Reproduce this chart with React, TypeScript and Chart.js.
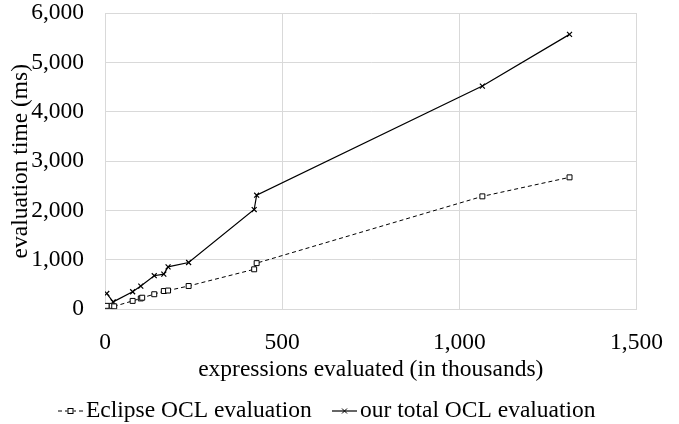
import React, { useEffect, useRef } from "react";
import { Chart, registerables } from "chart.js";

Chart.register(...registerables);

// ---- data ----
const seriesNames = ["Eclipse OCL evaluation", "our total OCL evaluation"];

const eclipseX = [5, 19, 26, 78, 101, 105, 139, 166, 178, 236, 421, 428, 1065, 1311];
const eclipseY = [70, 70, 60, 170, 220, 235, 305, 370, 380, 472, 810, 935, 2287, 2672];

const totalX = [5, 23, 78, 101, 139, 166, 178, 236, 421, 428, 1065, 1311];
const totalY = [320, 150, 355, 470, 680, 712, 860, 948, 2020, 2310, 4520, 5567];

const xTicks = [0, 500, 1000, 1500];
const yTicks = [0, 1000, 2000, 3000, 4000, 5000, 6000];

const xTitle = "expressions evaluated (in thousands)";
const yTitle = "evaluation time (ms)";

// ---- styles ----
const FAMILY = '"Liberation Serif", "Times New Roman", serif';
const FSIZE = 23.5;
const GRID = "#d9d9d9";

const fmt = (v: number) => Number(v).toLocaleString("en-US");

const legendPlugin = {
  id: "customLegend",
  afterDraw(chart: any) {
    const ctx: CanvasRenderingContext2D = chart.ctx;
    const y = 411;
    const starts = [58, 332];
    const markerW = 25;
    ctx.save();
    ctx.font = `${FSIZE}px ${FAMILY}`;
    ctx.textBaseline = "middle";
    ctx.textAlign = "left";
    chart.data.datasets.forEach((ds: any, i: number) => {
      const x0 = starts[i];
      const cx = x0 + markerW / 2;
      ctx.strokeStyle = "#000";
      ctx.lineWidth = ds.borderWidth;
      ctx.setLineDash(ds.borderDash || []);
      ctx.beginPath();
      ctx.moveTo(x0, y);
      ctx.lineTo(x0 + markerW, y);
      ctx.stroke();
      ctx.setLineDash([]);
      ctx.lineWidth = 1;
      if (ds.pointStyle === "rect") {
        ctx.fillStyle = "#fff";
        ctx.fillRect(cx - 3, y - 3, 6, 6);
        ctx.strokeRect(cx - 2.5, y - 2.5, 5, 5);
      } else {
        ctx.beginPath();
        ctx.moveTo(cx - 2.5, y - 2.5);
        ctx.lineTo(cx + 2.5, y + 2.5);
        ctx.moveTo(cx + 2.5, y - 2.5);
        ctx.lineTo(cx - 2.5, y + 2.5);
        ctx.stroke();
      }
      ctx.fillStyle = "#000";
      ctx.fillText(ds.label, x0 + markerW + 3, y);
    });
    ctx.restore();
  },
};

export default function App() {
  const ref = useRef<HTMLCanvasElement>(null);

  useEffect(() => {
    const chart = new Chart(ref.current as HTMLCanvasElement, {
      type: "line",
      data: {
        datasets: [
          {
            label: seriesNames[0],
            data: eclipseX.map((x, i) => ({ x, y: eclipseY[i] })),
            borderColor: "#000",
            borderWidth: 1,
            borderDash: [4, 3],
            pointStyle: "rect",
            pointRadius: 3.5,
            pointBorderWidth: 1,
            pointBackgroundColor: "#fff",
            pointBorderColor: "#000",
            tension: 0,
            fill: false,
          },
          {
            label: seriesNames[1],
            data: totalX.map((x, i) => ({ x, y: totalY[i] })),
            borderColor: "#000",
            borderWidth: 1.2,
            pointStyle: "crossRot",
            pointRadius: 3.5,
            pointBorderWidth: 1.2,
            pointBorderColor: "#000",
            pointBackgroundColor: "#000",
            tension: 0,
            fill: false,
          },
        ],
      } as any,
      options: {
        animation: false,
        responsive: false,
        devicePixelRatio: 1,
        layout: { padding: { top: 13, right: 42.5, bottom: 34.7, left: 0 } },
        plugins: {
          legend: { display: false },
          tooltip: { enabled: false },
        },
        scales: {
          x: {
            type: "linear",
            min: 0,
            max: 1500,
            afterBuildTicks: (s: any) => {
              s.ticks = xTicks.map((v) => ({ value: v }));
            },
            afterFit: (s: any) => {
              s.height = 80;
            },
            grid: { color: GRID, drawTicks: true, tickLength: 19, tickColor: "rgba(0,0,0,0)", lineWidth: 1 },
            border: { color: GRID },
            ticks: {
              padding: 0,
              color: "#000",
              maxRotation: 0,
              font: { family: FAMILY, size: FSIZE },
              callback: (v: any) => fmt(v),
            },
            title: {
              display: true,
              text: xTitle,
              color: "#000",
              font: { family: FAMILY, size: FSIZE },
              padding: { top: 0, bottom: 5 },
            },
          },
          y: {
            type: "linear",
            min: 0,
            max: 6000,
            afterBuildTicks: (s: any) => {
              s.ticks = yTicks.map((v) => ({ value: v }));
            },
            afterFit: (s: any) => {
              s.width = 105;
            },
            grid: { color: GRID, drawTicks: true, tickLength: 21, tickColor: "rgba(0,0,0,0)", lineWidth: 1 },
            border: { color: GRID },
            ticks: {
              padding: 0,
              color: "#000",
              font: { family: FAMILY, size: FSIZE, lineHeight: 1 },
              callback: (v: any) => fmt(v),
            },
            title: {
              display: true,
              text: yTitle,
              color: "#000",
              font: { family: FAMILY, size: FSIZE },
              padding: { top: 7, bottom: 0 },
            },
          },
        },
      } as any,
      plugins: [legendPlugin],
    });
    return () => chart.destroy();
  }, []);

  return (
    <div style={{ position: "absolute", left: 0, top: 0, width: 679, height: 424 }}>
      <canvas ref={ref} width={679} height={424} style={{ display: "block" }} />
    </div>
  );
}
